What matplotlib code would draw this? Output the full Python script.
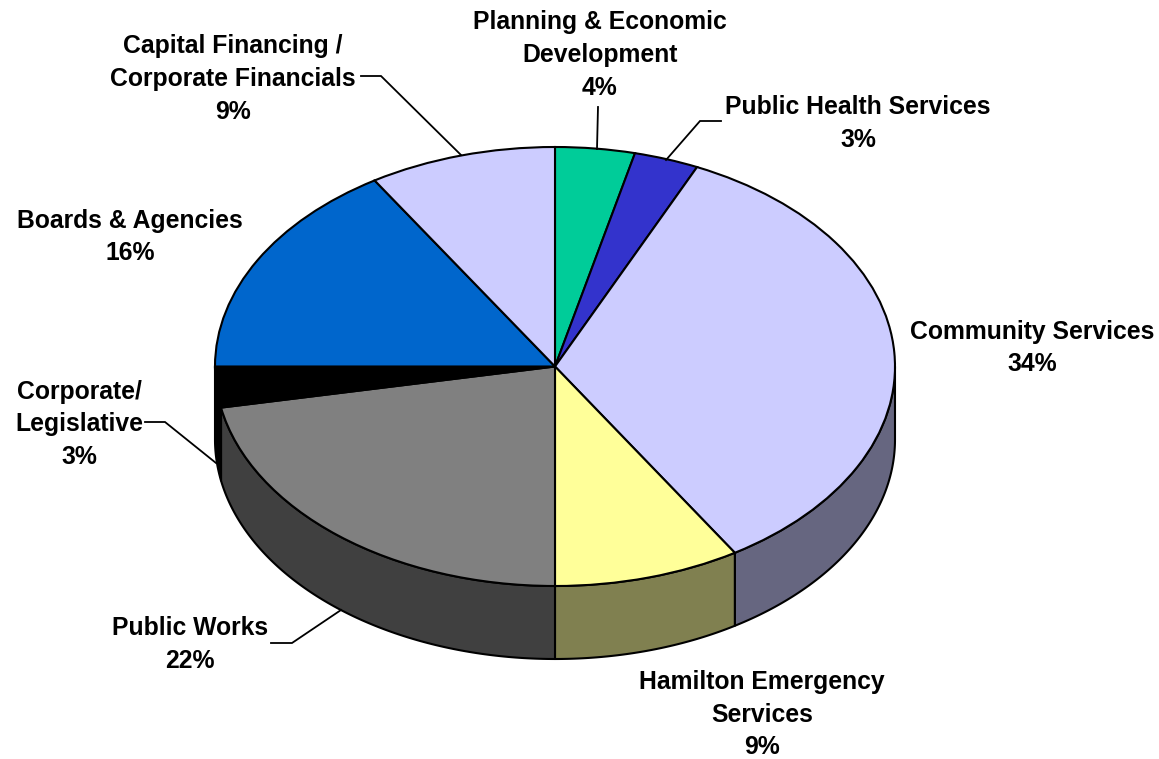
import numpy as np
import matplotlib
matplotlib.use("Agg")
import matplotlib.pyplot as plt

plt.rcParams['font.family'] = ['Liberation Sans', 'DejaVu Sans']

labels = ["Planning & Economic\nDevelopment", "Public Health Services", "Community Services",
          "Hamilton Emergency\nServices", "Public Works", "Corporate/\nLegislative",
          "Boards & Agencies", "Capital Financing /\nCorporate Financials"]
values = [3.78, 3.08, 34.27, 8.87, 22.0, 3.0, 16.1, 8.9]
top_colors = ["#00CC99", "#3333CC", "#CCCCFF", "#FFFF99", "#808080", "#000000", "#0066CC", "#CCCCFF"]
side_colors = ["#006650", "#1A1A66", "#666680", "#808050", "#404040", "#000000", "#003366", "#666680"]

W, H = 1159, 759
CX, CY, RX, RY, DEPTH = 555.0, 366.5, 340.0, 219.5, 73.0

fig = plt.figure(figsize=(W / 100, H / 100), dpi=100, facecolor="white")
ax = fig.add_axes([0, 0, 1, 1])

wedges, _ = ax.pie(values, startangle=90, counterclock=False, radius=1.0,
                   colors=top_colors, wedgeprops=dict(edgecolor="black", linewidth=1.5, zorder=3))
ax.set_aspect("auto")
ax.set_xlim((0 - CX) / RX, (W - CX) / RX)
ax.set_ylim((CY - H) / RY, CY / RY)
ax.axis("off")


def px(x, y):
    return (x - CX) / RX, (CY - y) / RY


# Front wall of the pie, one panel per slice, clipped to the visible half
depth = DEPTH / RY
edges = np.concatenate([[0], np.cumsum(values)]) / sum(values) * 360.0
for start, stop, color in zip(edges[:-1], edges[1:], side_colors):
    a, b = max(start, 90.0), min(stop, 270.0)
    if b <= a:
        continue
    t = np.radians(np.linspace(a, b, 120))
    xs, ys = np.sin(t), np.cos(t)
    ax.fill(np.r_[xs, xs[::-1]], np.r_[ys, ys[::-1] - depth],
            facecolor=color, edgecolor="black", linewidth=1.5, zorder=2, joinstyle="round")

# Data labels (text centre in pixels, leader line in pixels)
placements = [
    (600, 55, [(598, 107), (597, 149)]),
    (858, 123.5, [(721, 121), (700, 121), (666, 160)]),
    (1032, 348, None),
    (762, 714.5, None),
    (190, 644.5, [(271, 643), (292, 643), (341, 610)]),
    (79, 424.5, [(145, 422), (165, 422), (216, 463)]),
    (130, 237, None),
    (233, 79, [(361, 76), (381, 76), (461, 155)]),
]
for lab, val, (x, y, lead) in zip(labels, values, placements):
    ax.text(*px(x, y), f"{lab}\n{round(val)}%", ha="center", va="center", fontsize=17.8,
            fontweight="bold", color="black", linespacing=1.46, zorder=5)
    if lead:
        pts = np.array([px(*p) for p in lead])
        ax.plot(pts[:, 0], pts[:, 1], color="black", lw=1.3, zorder=4, solid_joinstyle="miter")

fig.savefig("out.png", dpi=100, facecolor="white")
